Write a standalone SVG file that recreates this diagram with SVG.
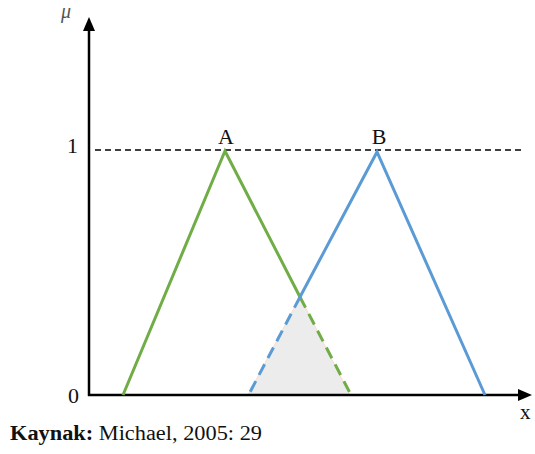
<svg xmlns="http://www.w3.org/2000/svg" width="535" height="454" viewBox="0 0 535 454">
<style>
.t{font-family:"Liberation Serif","Times New Roman","DejaVu Serif",serif;fill:#111}
.ax{stroke:#000;stroke-width:2.5;fill:none}
.g{stroke:#70ad47;stroke-width:3;fill:none}
.b{stroke:#5b9bd5;stroke-width:3;fill:none}
.d{stroke-dasharray:12 7}
</style>
<defs>
<marker id="ah" markerWidth="14" markerHeight="12" refX="4" refY="6" orient="auto" markerUnits="userSpaceOnUse"><path d="M0,0 L14,6 L0,12 Z" fill="#000"/></marker>
</defs>
<polygon points="248,395 300,297 350,395" fill="#ececec" stroke="#f8dcc8" stroke-width="1"/>
<g id="axes">
<line class="ax" x1="89" y1="396" x2="89" y2="27" marker-end="url(#ah)"/>
<line class="ax" x1="88" y1="395" x2="522" y2="395" marker-end="url(#ah)"/>
<line x1="95" y1="150" x2="523" y2="150" stroke="#000" stroke-width="1.3" stroke-dasharray="6 4"/>
</g>
<g id="A">
<polyline class="g" points="123,395 225,151 300,297"/>
<line class="g d" x1="300" y1="297" x2="350" y2="393"/>
<text class="t" x="226" y="144" font-size="22" text-anchor="middle">A</text>
</g>
<g id="B">
<polyline class="b" points="300,297 377,152 485,395"/>
<line class="b d" x1="300" y1="297" x2="249" y2="394"/>
<text class="t" x="379" y="144" font-size="22" text-anchor="middle">B</text>
</g>
<g id="labels">
<text class="t" x="61" y="18" font-size="20" font-style="italic" style="fill:#555">μ</text>
<text class="t" x="67" y="153" font-size="22">1</text>
<text class="t" x="68" y="403" font-size="22">0</text>
<text class="t" x="520" y="419" font-size="21">x</text>
<text class="t" x="10" y="440" font-size="20" textLength="252" lengthAdjust="spacingAndGlyphs"><tspan font-weight="bold">Kaynak:</tspan> Michael, 2005: 29</text>
</g>
</svg>
